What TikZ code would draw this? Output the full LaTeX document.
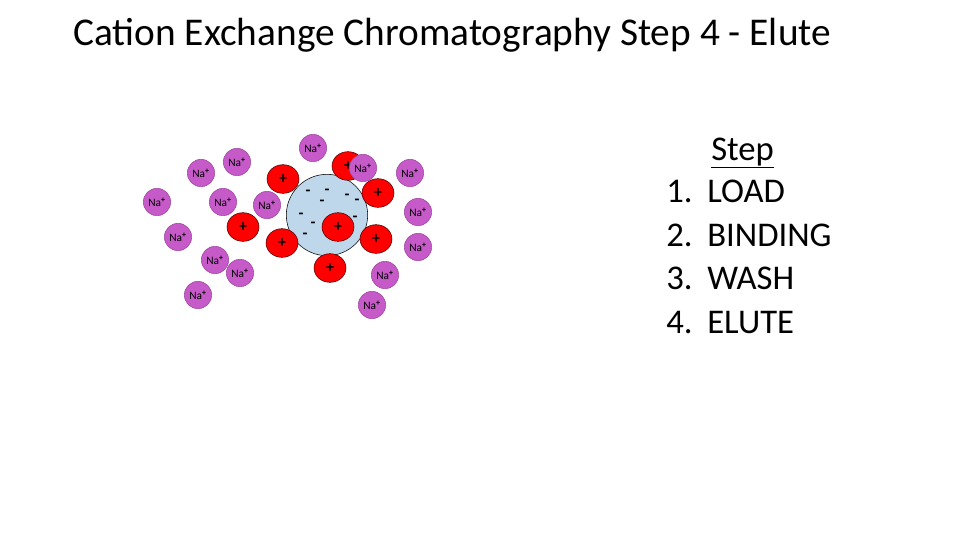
\documentclass[tikz,border=0pt]{standalone}
\usepackage{fontspec}
\setmainfont{Carlito}
\usetikzlibrary{shapes.geometric}
\definecolor{naviolet}{RGB}{198,90,200}
\definecolor{beadblue}{RGB}{190,215,235}
\tikzset{
  na/.style={circle, fill=naviolet, draw=naviolet!80!black, minimum size=20.5pt, inner sep=0pt, font=\fontsize{8.5}{8.5}\selectfont},
  cation/.style={ellipse, fill=red, draw=black!70!red, minimum width=24pt, minimum height=21.5pt, inner sep=0pt, font=\bfseries\fontsize{12}{12}\selectfont},
  anion/.style={font=\bfseries\fontsize{12}{12}\selectfont, inner sep=0pt},
  item/.style={anchor=west, font=\fontsize{26}{26}\selectfont, inner sep=0pt},
  num/.style={anchor=east, font=\fontsize{26}{26}\selectfont, inner sep=0pt}
}
\begin{document}
\begin{tikzpicture}[x=0.75pt, y=-0.75pt]
  \useasboundingbox (0,0) rectangle (960,540);
  % title
  \node[anchor=base west, inner sep=0pt, font=\fontsize{29.5}{29.5}\selectfont] (title) at (73,45) {Cation Exchange Chromatography Step 4 - Elute};
  % bead
  \node[circle, fill=beadblue, draw=black, minimum size=61pt, inner sep=0pt] (bead) at (327,215) {};
  \foreach \x/\y [count=\i] in {308/193, 327/192, 347/197, 322/203, 357/202, 301/216, 355/219, 313/225, 305/236, 327/238}
    \node[anion] (m\i) at (\x,\y) {-};
  % bound cations
  \foreach \x/\y [count=\i] in {283/179, 348/166, 378/193, 243/227, 282/243, 338/227, 376/239, 330/268}
    \node[cation] (c\i) at (\x,\y) {+};
  % sodium ions
  \foreach \x/\y [count=\i] in {313/148, 237/162, 201/173, 363/168, 410/173, 157/202, 223/202, 267/205, 418/212, 178/237, 418/247, 215/260, 240/273, 385/275, 198/295, 372/305}
    \node[na] (na\i) at (\x,\y) {Na\textsuperscript{\textbf{+}}};
  % steps
  \node[anchor=base west, inner sep=0pt, font=\fontsize{26}{26}\selectfont] (head) at (711,160) {\underline{Step}};
  \foreach \t [count=\i] in {LOAD, BINDING, WASH, ELUTE} {
    \node[num] (n\i) at (693,148+43.5*\i) {\i.};
    \node[item] (s\i) at (707,148+43.5*\i) {\t};
  }
\end{tikzpicture}
\end{document}
